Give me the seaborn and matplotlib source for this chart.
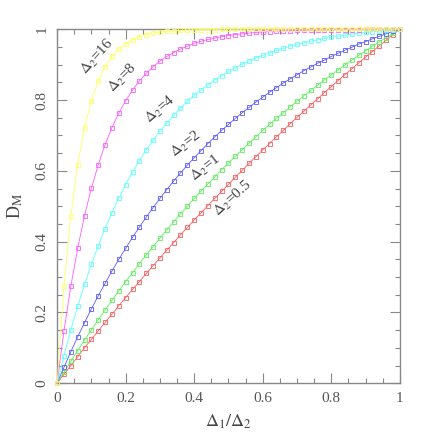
# D_M against Delta1/Delta2 for several values of Delta2
import pandas as pd
import matplotlib
matplotlib.use("Agg")
import matplotlib.pyplot as plt
import seaborn as sns

# x positions of the markers (Delta1 / Delta2)
ratio = [0.00, 0.02, 0.04, 0.06, 0.08, 0.10, 0.12, 0.14, 0.16, 0.18,
         0.20, 0.22, 0.24, 0.26, 0.28, 0.30, 0.32, 0.34, 0.36, 0.38,
         0.40, 0.42, 0.44, 0.46, 0.48, 0.50, 0.52, 0.54, 0.56, 0.58,
         0.60, 0.62, 0.64, 0.66, 0.68, 0.70, 0.72, 0.74, 0.76, 0.78,
         0.80, 0.82, 0.84, 0.86, 0.88, 0.90, 0.92, 0.94, 0.96, 0.98, 1.00]

# D_M
dm_05 = [0, .025, .050, .075, .100, .124, .148, .172, .195, .219, .242, .265, .287,
         .310, .332, .354, .376, .397, .419, .440, .461, .481, .502, .522, .542, .562,
         .582, .601, .621, .640, .659, .677, .696, .714, .733, .751, .768, .786, .803,
         .821, .838, .855, .872, .888, .905, .921, .937, .953, .969, .985, 1.0]
dm_1 = [0, .031, .062, .092, .122, .151, .179, .207, .234, .261, .287, .312, .338,
        .362, .386, .410, .433, .456, .478, .500, .522, .543, .563, .583, .603, .622,
        .641, .660, .678, .696, .714, .731, .748, .764, .781, .796, .812, .827, .842,
        .857, .871, .885, .899, .913, .926, .939, .952, .964, .976, .988, 1.0]
dm_2 = [0, .045, .089, .131, .171, .210, .247, .282, .317, .350, .381, .412, .441,
        .469, .496, .522, .547, .571, .594, .616, .637, .657, .677, .696, .714, .731,
        .748, .764, .779, .794, .808, .822, .835, .848, .860, .871, .883, .893, .904,
        .913, .923, .932, .941, .949, .958, .965, .973, .980, .987, .994, 1.0]
dm_4 = [0, .078, .151, .217, .279, .336, .388, .437, .482, .523, .561, .596, .629,
        .659, .686, .712, .735, .757, .777, .796, .813, .829, .843, .857, .869, .881,
        .891, .901, .910, .919, .926, .933, .940, .946, .952, .957, .961, .966, .970,
        .974, .977, .980, .983, .986, .989, .991, .993, .995, .997, .998, 1.0]
dm_8 = [0, .148, .274, .381, .473, .551, .617, .674, .722, .763, .798, .828, .854,
        .875, .894, .910, .923, .934, .944, .952, .960, .966, .971, .975, .979, .982,
        .985, .987, .989, .991, .992, .993, .994, .995, .996, .997, .997, .998, .998,
        .998, .999, .999, .999, .999, .999, 1.0, 1.0, 1.0, 1.0, 1.0, 1.0]
dm_16 = [0, .274, .473, .617, .722, .798, .853, .894, .923, .944, .959, .970, .979,
         .984, .989, .992, .994, .996, .997, .998, .998, .999, .999, .999, 1.0, 1.0,
         1.0, 1.0, 1.0, 1.0, 1.0, 1.0, 1.0, 1.0, 1.0, 1.0, 1.0, 1.0, 1.0, 1.0,
         1.0, 1.0, 1.0, 1.0, 1.0, 1.0, 1.0, 1.0, 1.0, 1.0, 1.0]

delta2 = ["0.5", "1", "2", "4", "8", "16"]
series = [dm_05, dm_1, dm_2, dm_4, dm_8, dm_16]
colors = ["#ff5a5a", "#5af05a", "#5a5aff", "#5affff", "#ff5aff", "#ffff5a"]

# curve label position and angle
label_x = [0.512, 0.434, 0.376, 0.300, 0.192, 0.116]
label_y = [0.523, 0.608, 0.676, 0.772, 0.862, 0.921]
label_rot = [42, 38, 37, 40, 45, 48]

sns.set_style("ticks")
plt.rcParams["font.family"] = ["Liberation Serif", "DejaVu Serif"]
plt.rcParams["mathtext.fontset"] = "stix"

fig = plt.figure(figsize=(4.36, 4.36), dpi=100)
ax = fig.add_axes([0.131, 0.121, 0.786, 0.812])

for d2, dm, col in zip(delta2, series, colors):
    df = pd.DataFrame({"ratio": ratio, "dm": dm})
    sns.lineplot(data=df, x="ratio", y="dm", ax=ax, color=col, lw=0.6,
                 marker="s", markersize=3.4, mfc="none", mec=col, mew=0.6,
                 clip_on=False, zorder=3)

for d2, lx, ly, rot in zip(delta2, label_x, label_y, label_rot):
    ax.text(lx, ly, r"$\Delta_2$=" + d2, rotation=rot, fontsize=11,
            ha="center", va="center", color="#444444")

ax.set_xlim(0, 1)
ax.set_ylim(0, 1)
ax.set_xticks([0, 0.2, 0.4, 0.6, 0.8, 1])
ax.set_xticklabels(["0", "0.2", "0.4", "0.6", "0.8", "1"])
ax.set_yticks([0, 0.2, 0.4, 0.6, 0.8, 1])
ax.set_yticklabels(["0", "0.2", "0.4", "0.6", "0.8", "1"], rotation=90, va="center")
ax.set_xticks([i * 0.05 for i in range(21)], minor=True)
ax.set_yticks([i * 0.05 for i in range(21)], minor=True)
ax.tick_params(which="both", direction="in", top=True, right=True,
               color="#888888", width=0.8, labelsize=11, labelcolor="#555555")
ax.tick_params(which="major", length=7, pad=6)
ax.tick_params(which="minor", length=3.5)
for sp in ax.spines.values():
    sp.set_color("#888888")
    sp.set_linewidth(1.0)

ax.set_xlabel(r"$\Delta_1/\Delta_2$", fontsize=13, color="#444444", labelpad=6)
ax.set_ylabel(r"D$_{\rm M}$", fontsize=13, color="#444444", labelpad=8)

fig.savefig("out.png", dpi=100)
